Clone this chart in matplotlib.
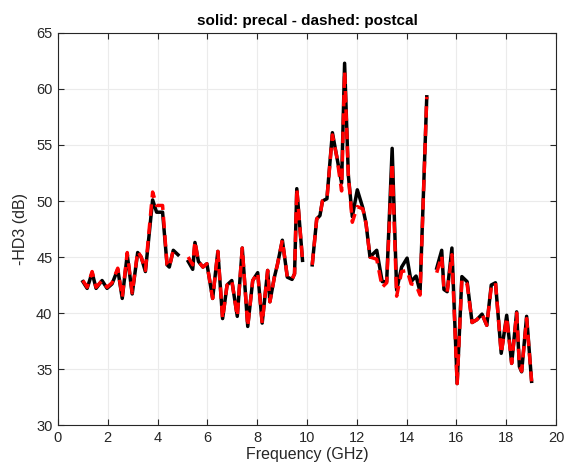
import numpy as np
import matplotlib
matplotlib.use("Agg")
import matplotlib.pyplot as plt

nan = np.nan

# frequency points (GHz), NaN marks the gaps between the measured bands
freq = [1.0, 1.17, 1.37, 1.53, 1.77, 1.97, 2.17, 2.4, 2.58, 2.78, 2.98, 3.2, 3.34, 3.51,
        3.8, 3.96, 4.2, 4.38, 4.47, 4.63, 4.82, nan,
        5.23, 5.41, 5.5, 5.64, 5.82, 5.98, 6.21, 6.42, 6.61, 6.79, 6.98, 7.2, 7.4, 7.62,
        7.82, 8.02, 8.2, 8.42, 8.51, 8.69, 8.81, 9.01, 9.21, 9.4, 9.5, 9.59, 9.82, nan,
        10.21, 10.39, 10.52, 10.62, 10.8, 11.02, 11.2, 11.39, 11.51, 11.66, 11.82, 12.02,
        12.24, 12.37, 12.53, 12.8, 13.02, 13.2, 13.42, 13.6, 13.8, 14.02, 14.18, 14.38,
        14.54, 14.81, nan,
        15.21, 15.41, 15.5, 15.63, 15.82, 16.03, 16.22, 16.43, 16.63, 16.82, 17.03, 17.22,
        17.4, 17.57, 17.8, 18.02, 18.22, 18.42, 18.53, 18.62, 18.82, 19.02]

precal = [42.8, 42.2, 43.6, 42.2, 42.9, 42.2, 42.6, 43.9, 41.3, 45.2, 41.7, 45.4, 45.0, 43.7,
          50.1, 49.0, 49.0, 44.3, 44.1, 45.6, 45.2, nan,
          44.6, 43.9, 46.3, 44.6, 44.1, 44.4, 41.3, 45.5, 39.5, 42.5, 42.9, 39.7, 45.8, 38.8,
          42.9, 43.6, 39.1, 43.8, 41.0, 43.2, 44.3, 46.5, 43.2, 43.0, 43.5, 51.1, 44.7, nan,
          44.3, 48.4, 48.7, 50.0, 50.2, 56.1, 53.9, 51.6, 62.3, 52.3, 48.6, 51.0,
          49.4, 48.0, 45.0, 45.6, 42.8, 42.8, 54.7, 42.05, 44.1, 44.9, 42.8, 43.3,
          41.9, 59.3, nan,
          44.0, 45.6, 42.1, 41.9, 45.8, 33.7, 43.25, 42.8, 39.15, 39.4, 39.9, 38.9,
          42.5, 42.7, 36.4, 39.8, 35.5, 40.1, 35.2, 34.75, 39.7, 33.9]

postcal = [42.9, 42.3, 43.7, 42.3, 42.9, 42.3, 42.7, 44.0, 41.4, 45.4, 41.8, 45.5, 45.0, 43.8,
           50.8, 49.6, 49.6, 44.3, 44.1, 45.6, 45.7, nan,
           45.0, 44.3, 46.4, 44.6, 44.1, 44.4, 41.3, 45.5, 39.5, 42.5, 42.9, 39.7, 45.8, 38.8,
           42.9, 43.6, 39.1, 43.8, 41.0, 43.2, 44.3, 46.5, 43.2, 43.0, 43.5, 51.1, 44.7, nan,
           44.3, 48.4, 48.7, 50.0, 50.2, 55.9, 53.9, 50.9, 61.6, 52.3, 48.1, 49.5,
           49.3, 48.0, 45.0, 44.8, 42.3, 42.7, 53.4, 41.5, 43.7, 43.8, 42.6, 42.5,
           41.6, 59.3, nan,
           43.6, 45.1, 42.1, 41.9, 45.2, 33.7, 43.0, 42.6, 39.15, 39.4, 39.9, 38.9,
           42.3, 42.7, 36.4, 39.6, 35.5, 40.0, 35.3, 34.8, 39.5, 33.9]

plt.rcParams["font.family"] = ["Liberation Sans", "DejaVu Sans"]
axcol = "#262626"

fig = plt.figure(figsize=(5.64, 4.69), dpi=100)
ax = fig.add_axes([58 / 564, 44 / 469, 498 / 564, 392 / 469])

ax.plot(freq, precal, color="black", lw=2.5)
ax.plot(freq, postcal, color="red", lw=2.5, linestyle=(0, (3.3, 2.0)))

ax.set_xlim(0, 20)
ax.set_ylim(30, 65)
ax.set_xticks(np.arange(0, 21, 2))
ax.set_yticks(np.arange(30, 66, 5))
ax.grid(True, color="#ebebeb", lw=0.8)
ax.set_axisbelow(True)
ax.tick_params(direction="in", top=True, right=True, length=4, width=0.8,
               colors=axcol, labelsize=10.5, pad=4)
for s in ax.spines.values():
    s.set_color(axcol)
    s.set_linewidth(0.8)

ax.set_xlabel("Frequency (GHz)", fontsize=11.5, color=axcol, labelpad=2)
ax.set_ylabel("-HD3 (dB)", fontsize=11.5, color=axcol, labelpad=6)
ax.set_title("solid: precal - dashed: postcal", fontsize=11, fontweight="bold", pad=6)

fig.savefig("out.png", dpi=100)
